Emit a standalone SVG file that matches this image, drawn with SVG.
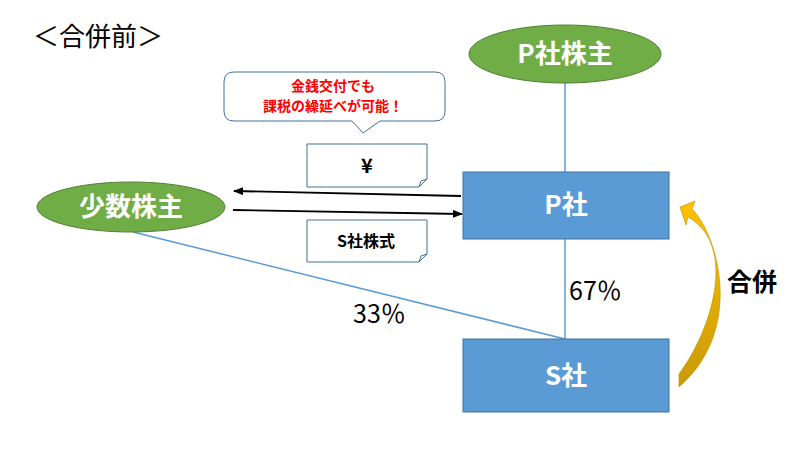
<svg xmlns="http://www.w3.org/2000/svg" width="800" height="450" viewBox="0 0 800 450">
<defs>
<style>
text{font-family:"Noto Sans CJK JP","Noto Sans",sans-serif;}
.ell{fill:#70AD47;stroke:#507E32;stroke-width:1;}
.box{fill:#5B9BD5;stroke:#41719C;stroke-width:1;}
.wlab{fill:#FFFFFF;font-size:26px;font-weight:bold;text-anchor:middle;}
.note{fill:#FFFFFF;stroke:#41719C;stroke-width:1;}
.nlab{fill:#000000;font-size:16px;font-weight:bold;text-anchor:middle;}
.link{stroke:#5B9BD5;stroke-width:1.5;fill:none;}
.flow{stroke:#000000;stroke-width:1.8;fill:none;}
.pct{fill:#000000;font-size:25px;}
.red{fill:#FF0000;font-size:14px;font-weight:bold;text-anchor:middle;}
</style>
<marker id="ah" markerWidth="10" markerHeight="8" refX="9" refY="4" orient="auto" markerUnits="userSpaceOnUse">
<path d="M0,0 L10,4 L0,8 Z" fill="#000000"/>
</marker>
<linearGradient id="gold" x1="0" y1="0" x2="0" y2="1">
<stop offset="0" stop-color="#FFC000"/>
<stop offset="1" stop-color="#C99A06"/>
</linearGradient>
</defs>
<rect width="800" height="450" fill="#FFFFFF"/>
<text x="33" y="46" font-size="26" fill="#000000">＜合併前＞</text>

<g id="connectors">
<line class="link" x1="565" y1="83" x2="565" y2="172"/>
<line class="link" x1="565" y1="239" x2="565" y2="339"/>
<line class="link" x1="133" y1="232" x2="565" y2="339"/>
<line class="flow" x1="461" y1="196" x2="234" y2="191" marker-end="url(#ah)"/>
<line class="flow" x1="233" y1="210" x2="462" y2="214" marker-end="url(#ah)"/>
</g>

<g id="p-shareholders">
<ellipse class="ell" cx="565" cy="54" rx="96" ry="29"/>
<text class="wlab" x="565" y="63">P社株主</text>
</g>
<g id="minority">
<ellipse class="ell" cx="131" cy="207" rx="94" ry="25"/>
<text class="wlab" x="131" y="216">少数株主</text>
</g>
<g id="p-company">
<rect class="box" x="463" y="172" width="206" height="67"/>
<text class="wlab" x="566" y="214">P社</text>
</g>
<g id="s-company">
<rect class="box" x="463" y="339" width="206" height="73"/>
<text class="wlab" x="566" y="385">S社</text>
</g>

<g id="yen-note">
<path class="note" d="M307,144 H427 V179 L419,187 H307 Z"/>
<path d="M427,179 L421,181 L419,187" fill="none" stroke="#41719C" stroke-width="1"/>
<text class="nlab" x="367" y="173" style="font-size:20px">¥</text>
</g>
<g id="share-note">
<path class="note" d="M307,220 H427 V254 L419,262 H307 Z"/>
<path d="M427,254 L421,256 L419,262" fill="none" stroke="#41719C" stroke-width="1"/>
<text class="nlab" x="366" y="247">S社株式</text>
</g>

<g id="callout">
<path class="note" d="M234,72 H435 Q445,72 445,82 V111 Q445,121 435,121 H380 L363,133 L352,121 H234 Q224,121 224,111 V82 Q224,72 234,72 Z"/>
<text class="red" x="333" y="91">金銭交付でも</text>
<text class="red" x="333" y="111">課税の繰延べが可能！</text>
</g>

<g id="merger-arrow">
<path d="M680,207 L695,201 L692,209 C718,235 745,330 679,387 L679,374 C712,330 738,245 688,217 L686,225 Z" fill="url(#gold)" stroke="#BF9000" stroke-width="0.6"/>
<text x="727" y="291" font-size="25" font-weight="bold" fill="#000000">合併</text>
</g>

<text class="pct" x="569" y="300">67％</text>
<text class="pct" x="353" y="323">33％</text>
</svg>
